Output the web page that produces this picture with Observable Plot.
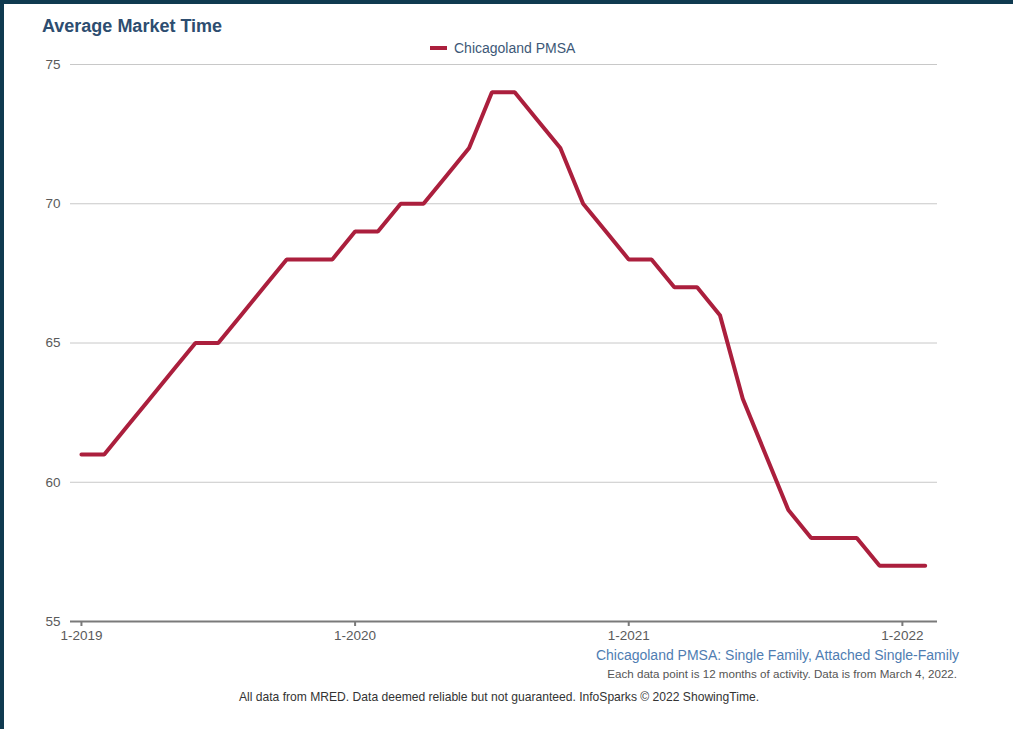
<!DOCTYPE html>
<html>
<head>
<meta charset="utf-8">
<script src="https://cdn.jsdelivr.net/npm/d3@7"></script>
<script src="https://cdn.jsdelivr.net/npm/@observablehq/plot@0.6"></script>
<style>
  html, body { margin: 0; padding: 0; }
  body { width: 1013px; height: 729px; background: #0f3a50; position: relative; overflow: hidden;
         font-family: "Liberation Sans", Arial, sans-serif; }
  #panel { position: absolute; left: 4px; top: 4px; right: 0; bottom: 0; background: #fff; }
  .abs { position: absolute; white-space: nowrap; }
  #title { left: 42px; top: 16px; font-size: 18px; font-weight: bold; color: #2d4d70; line-height: 20px; }
  #legend { left: 430px; top: 40px; font-size: 14px; color: #3d5877; line-height: 16px; display: flex; align-items: center; }
  #legend .sw { width: 17px; height: 4px; background: #ab1f3d; margin-right: 7px; }
  #chart { left: 0; top: 0; }
  #source { right: 54px; top: 647px; font-size: 14px; color: #4f7db2; line-height: 16px; }
  #note { right: 56px; top: 667px; font-size: 11.6px; color: #555; line-height: 13px; }
  #credit { left: 239px; top: 691px; font-size: 12.1px; color: #333; line-height: 13px; }
</style>
</head>
<body>
<div id="panel"></div>
<div id="title" class="abs">Average Market Time</div>
<div id="legend" class="abs"><span class="sw"></span><span>Chicagoland PMSA</span></div>
<div id="chart" class="abs"></div>
<div id="source" class="abs">Chicagoland PMSA: Single Family, Attached Single-Family</div>
<div id="note" class="abs">Each data point is 12 months of activity. Data is from March 4, 2022.</div>
<div id="credit" class="abs">All data from MRED. Data deemed reliable but not guaranteed. InfoSparks © 2022 ShowingTime.</div>
<script>
// Monthly periods, January 2019 through February 2022
const months = [
  "1-2019","2-2019","3-2019","4-2019","5-2019","6-2019","7-2019","8-2019","9-2019","10-2019","11-2019","12-2019",
  "1-2020","2-2020","3-2020","4-2020","5-2020","6-2020","7-2020","8-2020","9-2020","10-2020","11-2020","12-2020",
  "1-2021","2-2021","3-2021","4-2021","5-2021","6-2021","7-2021","8-2021","9-2021","10-2021","11-2021","12-2021",
  "1-2022","2-2022"
];

// Average market time (days), Chicagoland PMSA, rolling 12 months
const marketTime = [
  61, 61, 62, 63, 64, 65, 65, 66, 67, 68, 68, 68,
  69, 69, 70, 70, 71, 72, 74, 74, 73, 72, 70, 69,
  68, 68, 67, 67, 66, 63, 61, 59, 58, 58, 58, 57,
  57, 57
];

const xTickLabels = ["1-2019", "1-2020", "1-2021", "1-2022"];
const yTicks = [55, 60, 65, 70, 75];

const rows = months.map((m, i) => ({month: m, idx: i, value: marketTime[i]}));
const xTickIdx = xTickLabels.map(l => months.indexOf(l));

const chart = Plot.plot({
  width: 1013,
  height: 651,
  marginLeft: 70,
  marginRight: 76,
  marginTop: 64,
  marginBottom: 30,
  style: {fontFamily: "'Liberation Sans', Arial, sans-serif", fontSize: "13.5px", color: "#555", background: "transparent"},
  x: {domain: [-0.48, 37.54], label: null},
  y: {domain: [55, 75], label: null},
  marks: [
    Plot.gridY(yTicks.filter(t => t !== 55), {stroke: "#c8c8c8", strokeOpacity: 1, strokeWidth: 1}),
    Plot.axisY(yTicks, {tickSize: 0, tickPadding: 10, fill: "#5a5a5a", fontSize: 13.5, label: null}),
    Plot.ruleY([55], {stroke: "#7a7a7a", strokeWidth: 2}),
    Plot.axisX(xTickIdx, {tickSize: 5, tickPadding: 4, stroke: "#7a7a7a", strokeWidth: 2, fill: "#5a5a5a", fontSize: 13.5,
      label: null, tickFormat: i => months[i]}),
    Plot.line(rows, {x: "idx", y: "value", stroke: "#ab1f3d", strokeWidth: 4, strokeLinejoin: "miter", strokeLinecap: "round"})
  ]
});
document.getElementById("chart").appendChild(chart);
</script>
</body>
</html>
